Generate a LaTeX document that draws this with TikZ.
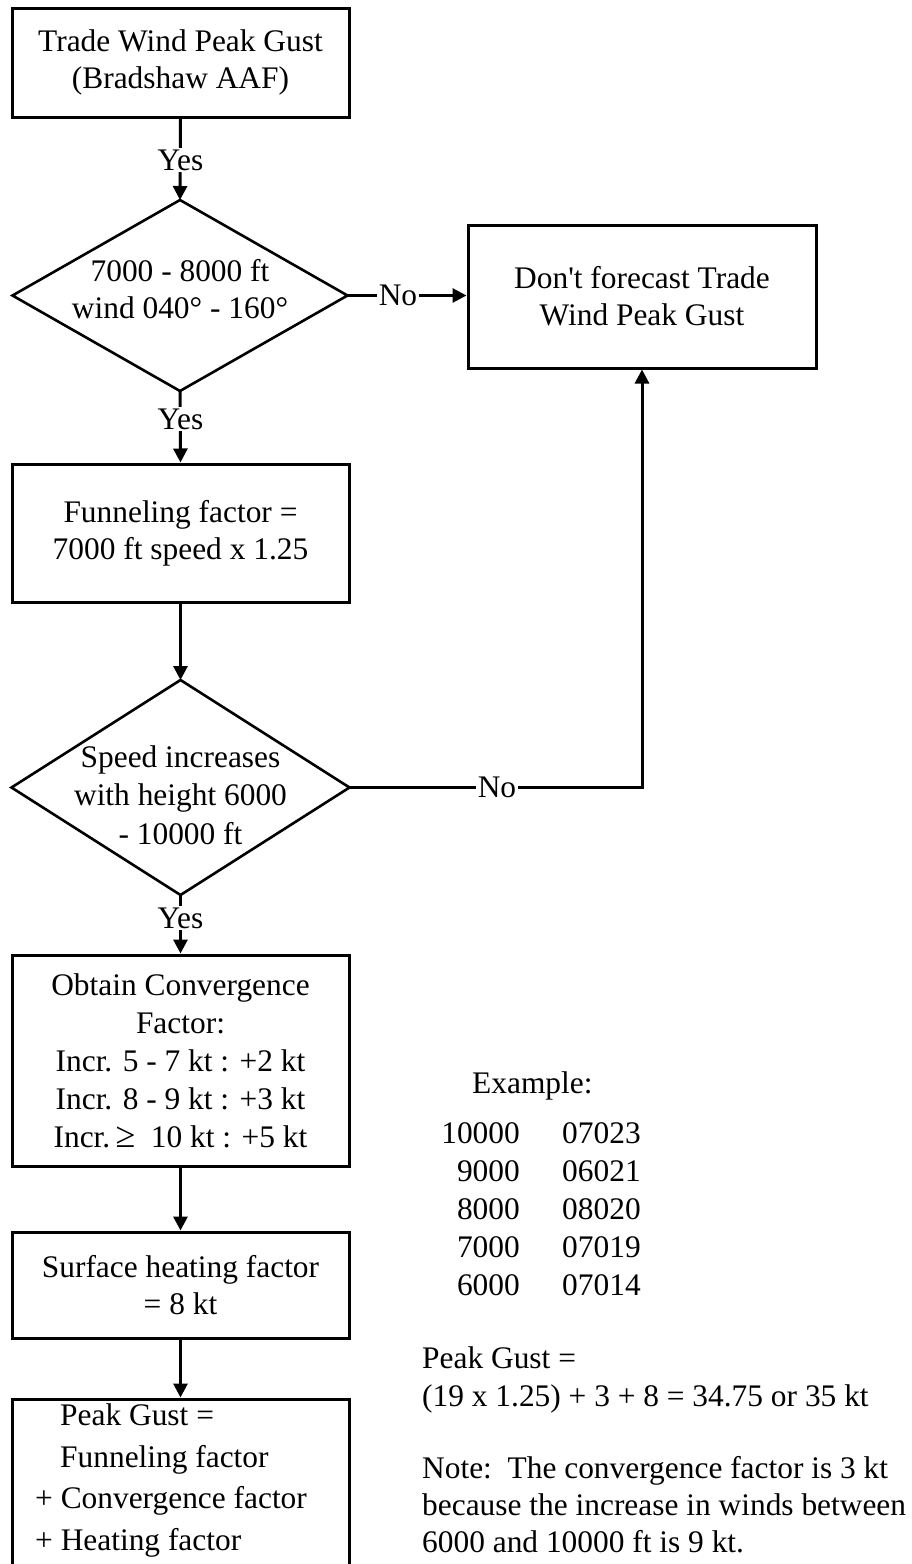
\documentclass[tikz,border=0pt]{standalone}
\usepackage{fontspec}
\setmainfont{Liberation Serif}[Ligatures=TeXOff]
\usetikzlibrary{arrows.meta,shapes.geometric}
\begin{document}
\begin{tikzpicture}[x=1pt,y=-1pt,
  txt/.style={font=\fontsize{31.4}{37}\selectfont, align=center, inner sep=0pt},
  box/.style={draw, line width=3pt, minimum width=337pt, inner sep=0pt, txt},
  dia/.style={draw, diamond, line width=2.6pt, inner sep=0pt, outer sep=0pt},
  conn/.style={line width=3pt, -{Triangle[width=14pt,length=14pt]}},
  lab/.style={txt, fill=white, inner sep=1.5pt},
  plain/.style={font=\fontsize{31.4}{37}\selectfont, inner sep=0pt}
]
\useasboundingbox (0,0) rectangle (912,1564);
\clip (0,0) rectangle (912,1564);

% flowchart boxes
\node[box, minimum height=109pt] (b1) at (180.5,62.5) {Trade Wind Peak Gust\\(Bradshaw AAF)};
\node[dia, minimum width=335pt, minimum height=191pt] (d1) at (180,295.5) {};
\node[txt] (d1t) at (180,289) {7000 - 8000 ft\\wind 040° - 160°};
\node[box, minimum width=348pt, minimum height=143pt] (b2) at (642,296.5) {Don't forecast Trade\\Wind Peak Gust};
\node[box, minimum height=138pt] (b3) at (180.5,533) {Funneling factor =\\7000 ft speed x 1.25};
\node[dia, minimum width=338pt, minimum height=215pt] (d2) at (180.5,787.5) {};
\node[txt, font=\fontsize{31.4}{38.5}\selectfont] (d2t) at (180.5,795) {Speed increases\\with height 6000\\- 10000 ft};
\node[box, minimum height=211pt, font=\fontsize{31.4}{38}\selectfont] (b4) at (180.5,1060.5) {Obtain Convergence\\Factor:\\Incr. 5 - 7 kt : +2 kt\\Incr. 8 - 9 kt : +3 kt\\Incr.\,{\fontsize{36}{36}\selectfont ≥}\ \ 10 kt : +5 kt};
\node[box, minimum height=106pt] (b5) at (180.5,1285) {Surface heating factor\\= 8 kt};
\node[box, minimum height=260pt] (b6) at (180.5,1529) {};
\node[plain, anchor=base west] (b6a) at (60,1425) {Peak Gust =};
\node[plain, anchor=base west] (b6b) at (60,1467) {Funneling factor};
\node[plain, anchor=base west] (b6c) at (35,1508) {+ Convergence factor};
\node[plain, anchor=base west] (b6d) at (35,1550) {+ Heating factor};

% connectors
\draw[conn] (b1.south) -- (d1.north);
\node[lab] (y1) at (180.5,160) {Yes};
\draw[conn] (d1.east) -- (d1.east -| b2.west);
\node[lab] (n1) at (398,295.5) {No};
\draw[conn] (d1.south) -- (b3.north);
\node[lab] (y2) at (180.5,419) {Yes};
\draw[conn] (b3.south) -- (d2.north);
\coordinate (c2) at (d2.east -| b2.south);
\draw[conn] (d2.east) -- (c2) -- (b2.south);
\node[lab] (n2) at (497,787.5) {No};
\draw[conn] (d2.south) -- (b4.north);
\node[lab] (y3) at (180.5,918) {Yes};
\draw[conn] (b4.south) -- (b5.north);
\draw[conn] (b5.south) -- (b6.north);

% example text
\node[plain, anchor=base west] (ex) at (472,1093) {Example:};
\node[plain, anchor=base east] (h1) at (520,1143) {10000};
\node[plain, anchor=base east] (h2) at (520,1181) {9000};
\node[plain, anchor=base east] (h3) at (520,1219) {8000};
\node[plain, anchor=base east] (h4) at (520,1257) {7000};
\node[plain, anchor=base east] (h5) at (520,1295) {6000};
\node[plain, anchor=base west] (w1) at (562,1143) {07023};
\node[plain, anchor=base west] (w2) at (562,1181) {06021};
\node[plain, anchor=base west] (w3) at (562,1219) {08020};
\node[plain, anchor=base west] (w4) at (562,1257) {07019};
\node[plain, anchor=base west] (w5) at (562,1295) {07014};
\node[plain, anchor=base west] (pg1) at (422,1368) {Peak Gust =};
\node[plain, anchor=base west] (pg2) at (422,1406) {(19 x 1.25) + 3 + 8 = 34.75 or 35 kt};
\node[plain, anchor=base west] (nt1) at (422,1478) {Note:\ \ The convergence factor is 3 kt};
\node[plain, anchor=base west] (nt2) at (422,1515) {because the increase in winds between};
\node[plain, anchor=base west] (nt3) at (422,1552) {6000 and 10000 ft is 9 kt.};
\end{tikzpicture}
\end{document}
